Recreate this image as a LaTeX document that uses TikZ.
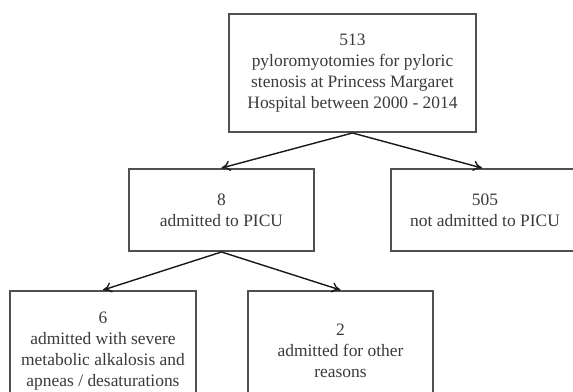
\documentclass[tikz,border=0pt]{standalone}
\usepackage{fontspec}
\setmainfont{Liberation Serif}
\usetikzlibrary{arrows.meta}

\definecolor{boxgray}{HTML}{505050}
\definecolor{textgray}{HTML}{3A3A3A}

\tikzset{
  flowbox/.style={draw=boxgray,line width=1.4pt,align=center,inner sep=0pt,
    text=textgray,font=\fontsize{12.4}{15}\selectfont},
  flowarrow/.style={draw=black!90,line width=1pt,-{To[length=2.2mm,width=2.6mm]}}
}

\begin{document}
\begin{tikzpicture}[x=0.025cm,y=-0.025cm]
  \useasboundingbox (0,0) rectangle (573,392);
  \clip (0,0) rectangle (573,392);

  %top
  \node[flowbox,minimum width=247*0.025cm,minimum height=118*0.025cm] (total) at (352.5,73)
    {513\\pyloromyotomies for pyloric\\stenosis at Princess Margaret\\Hospital between 2000 - 2014};

  %PICU or not
  \node[flowbox,minimum width=185*0.025cm,minimum height=82*0.025cm] (picu) at (221.5,210)
    {8\\admitted to PICU};
  \node[flowbox,minimum width=188*0.025cm,minimum height=82*0.025cm] (nopicu) at (485,210)
    {505\\not admitted to PICU};

  %reasons
  \node[flowbox,minimum width=186*0.025cm,minimum height=120*0.025cm] (alkal) at (103,351)
    {6\\admitted with severe\\metabolic alkalosis and\\apneas / desaturations};
  \node[flowbox,minimum width=185*0.025cm,minimum height=120*0.025cm] (other) at (340.5,351)
    {2\\admitted for other\\reasons};

  \draw[flowarrow] (total.south) -- (picu.north);
  \draw[flowarrow] (total.south) -- ([xshift=-3*0.025cm]nopicu.north);
  \draw[flowarrow] (picu.south) -- (alkal.north);
  \draw[flowarrow] (picu.south) -- (other.north);

\end{tikzpicture}
\end{document}
